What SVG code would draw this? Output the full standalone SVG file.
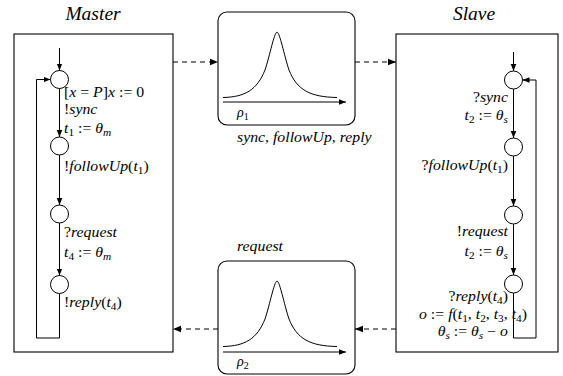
<svg xmlns="http://www.w3.org/2000/svg" width="563" height="376" viewBox="0 0 563 376">
<style>
  .box{fill:#fff;stroke:#000;stroke-width:1.1}
  .ln{fill:none;stroke:#000;stroke-width:1}
  .st{fill:#fff;stroke:#000;stroke-width:1}
  .dash{fill:none;stroke:#000;stroke-width:1;stroke-dasharray:5 4}
</style>
<defs>
  <marker id="ah" viewBox="0 0 10 10" refX="10" refY="5" markerWidth="7" markerHeight="7" markerUnits="userSpaceOnUse" orient="auto">
    <path d="M0,1 L10,5 L0,9 Z" fill="#000"/>
  </marker>
  <marker id="ad" viewBox="0 0 10 10" refX="10" refY="5" markerWidth="8" markerHeight="8" markerUnits="userSpaceOnUse" orient="auto">
    <path d="M0,1 L10,5 L0,9 Z" fill="#000"/>
  </marker>
</defs>

<g id="master">
  <text x="93" y="20" text-anchor="middle" font-family="Liberation Serif" font-style="italic" font-size="19.5">Master</text>
  <rect class="box" x="14" y="34" width="159" height="318"/>
</g>
<g id="slave">
  <text x="474" y="20" text-anchor="middle" font-family="Liberation Serif" font-style="italic" font-size="19.5">Slave</text>
  <rect class="box" x="396" y="34" width="162" height="318"/>
</g>
<g id="channel1">
  <rect class="box" x="218" y="12" width="137" height="113" rx="9"/>
  <path class="ln" d="M223,97.5 C245,97 257,90 265,70 C270,55 274,33 277,32 C280,33 284,55 289,70 C297,90 310,97 337,97.5"/>
  <line class="ln" x1="223" y1="102" x2="346" y2="102" marker-end="url(#ah)"/>
  <text x="237" y="117" font-family="Liberation Serif" font-style="italic" font-size="14">ρ<tspan font-size="10" font-style="normal" dy="2.5">1</tspan></text>
  <text transform="translate(237,142) scale(1.13,1)" font-family="Liberation Serif" font-style="italic" font-size="14">sync, followUp, reply</text>
</g>
<g id="channel2">
  <rect class="box" x="218" y="261" width="137" height="113" rx="9"/>
  <path class="ln" d="M223,346.5 C245,346 257,339 265,319 C270,304 274,282 277,281 C280,282 284,304 289,319 C297,339 310,346 337,346.5"/>
  <line class="ln" x1="223" y1="352" x2="346" y2="352" marker-end="url(#ah)"/>
  <text x="237" y="366" font-family="Liberation Serif" font-style="italic" font-size="14">ρ<tspan font-size="10" font-style="normal" dy="2.5">2</tspan></text>
  <text transform="translate(237,251) scale(1.13,1)" font-family="Liberation Serif" font-style="italic" font-size="14">request</text>
</g>

<g id="master-states">
  <circle class="st" cx="59.5" cy="79.5" r="9"/>
  <circle class="st" cx="59.5" cy="146" r="9"/>
  <circle class="st" cx="59.5" cy="214" r="9"/>
  <circle class="st" cx="59.5" cy="284.5" r="9"/>
</g>
<g id="slave-states">
  <circle class="st" cx="513.5" cy="80" r="9"/>
  <circle class="st" cx="513.5" cy="147" r="9"/>
  <circle class="st" cx="513.5" cy="215" r="9"/>
  <circle class="st" cx="513.5" cy="284" r="9"/>
</g>

<g id="connectors">
  <line class="ln" x1="59.5" y1="48" x2="59.5" y2="70.5" marker-end="url(#ah)"/>
  <line class="ln" x1="59.5" y1="88.5" x2="59.5" y2="137" marker-end="url(#ah)"/>
  <line class="ln" x1="59.5" y1="155" x2="59.5" y2="205" marker-end="url(#ah)"/>
  <line class="ln" x1="59.5" y1="223" x2="59.5" y2="275.5" marker-end="url(#ah)"/>
  <polyline class="ln" points="59.5,293.5 59.5,338 36.5,338 36.5,79.5 50.5,79.5" marker-end="url(#ah)"/>

  <line class="ln" x1="513.5" y1="52" x2="513.5" y2="71" marker-end="url(#ah)"/>
  <line class="ln" x1="513.5" y1="89" x2="513.5" y2="138" marker-end="url(#ah)"/>
  <line class="ln" x1="513.5" y1="156" x2="513.5" y2="206" marker-end="url(#ah)"/>
  <line class="ln" x1="513.5" y1="224" x2="513.5" y2="275" marker-end="url(#ah)"/>
  <polyline class="ln" points="513.5,293 513.5,338 536,338 536,80 522.5,80" marker-end="url(#ah)"/>

  <line class="dash" x1="173" y1="62" x2="218" y2="62" marker-end="url(#ad)"/>
  <line class="dash" x1="355" y1="62" x2="396" y2="62" marker-end="url(#ad)"/>
  <line class="dash" x1="396" y1="329" x2="355" y2="329" marker-end="url(#ad)"/>
  <line class="dash" x1="218" y1="329" x2="173" y2="329" marker-end="url(#ad)"/>
</g>

<g id="master-labels" font-family="Liberation Serif" font-style="italic" font-size="14">
  <text transform="translate(64,97) scale(1.13,1)" font-family="Liberation Serif" font-style="italic" font-size="14"><tspan font-style="normal">[</tspan>x <tspan font-style="normal">=</tspan> P<tspan font-style="normal">]</tspan>x <tspan font-style="normal">:= 0</tspan></text>
  <text transform="translate(64,114) scale(1.13,1)" font-family="Liberation Serif" font-style="italic" font-size="14"><tspan font-style="normal">!</tspan>sync</text>
  <text transform="translate(64,133) scale(1.13,1)" font-family="Liberation Serif" font-style="italic" font-size="14">t<tspan font-size="10" font-style="normal" dy="2.5">1</tspan><tspan font-style="normal" dy="-2.5"> := </tspan>θ<tspan font-size="10" dy="2.5">m</tspan></text>
  <text transform="translate(64,171) scale(1.13,1)" font-family="Liberation Serif" font-style="italic" font-size="14"><tspan font-style="normal">!</tspan>followUp<tspan font-style="normal">(</tspan>t<tspan font-size="10" font-style="normal" dy="2.5">1</tspan><tspan font-style="normal" dy="-2.5">)</tspan></text>
  <text transform="translate(64,237) scale(1.13,1)" font-family="Liberation Serif" font-style="italic" font-size="14"><tspan font-style="normal">?</tspan>request</text>
  <text transform="translate(64,257) scale(1.13,1)" font-family="Liberation Serif" font-style="italic" font-size="14">t<tspan font-size="10" font-style="normal" dy="2.5">4</tspan><tspan font-style="normal" dy="-2.5"> := </tspan>θ<tspan font-size="10" dy="2.5">m</tspan></text>
  <text transform="translate(64,307) scale(1.13,1)" font-family="Liberation Serif" font-style="italic" font-size="14"><tspan font-style="normal">!</tspan>reply<tspan font-style="normal">(</tspan>t<tspan font-size="10" font-style="normal" dy="2.5">4</tspan><tspan font-style="normal" dy="-2.5">)</tspan></text>
</g>
<g id="slave-labels" font-family="Liberation Serif" font-style="italic" font-size="14" text-anchor="end">
  <text transform="translate(508,102) scale(1.13,1)" font-family="Liberation Serif" font-style="italic" font-size="14"><tspan font-style="normal">?</tspan>sync</text>
  <text transform="translate(508,120) scale(1.13,1)" font-family="Liberation Serif" font-style="italic" font-size="14">t<tspan font-size="10" font-style="normal" dy="2.5">2</tspan><tspan font-style="normal" dy="-2.5"> := </tspan>θ<tspan font-size="10" dy="2.5">s</tspan></text>
  <text transform="translate(508,170) scale(1.13,1)" font-family="Liberation Serif" font-style="italic" font-size="14"><tspan font-style="normal">?</tspan>followUp<tspan font-style="normal">(</tspan>t<tspan font-size="10" font-style="normal" dy="2.5">1</tspan><tspan font-style="normal" dy="-2.5">)</tspan></text>
  <text transform="translate(508,236) scale(1.13,1)" font-family="Liberation Serif" font-style="italic" font-size="14"><tspan font-style="normal">!</tspan>request</text>
  <text transform="translate(508,256) scale(1.13,1)" font-family="Liberation Serif" font-style="italic" font-size="14">t<tspan font-size="10" font-style="normal" dy="2.5">2</tspan><tspan font-style="normal" dy="-2.5"> := </tspan>θ<tspan font-size="10" dy="2.5">s</tspan></text>
  <text transform="translate(508,301) scale(1.13,1)" font-family="Liberation Serif" font-style="italic" font-size="14"><tspan font-style="normal">?</tspan>reply<tspan font-style="normal">(</tspan>t<tspan font-size="10" font-style="normal" dy="2.5">4</tspan><tspan font-style="normal" dy="-2.5">)</tspan></text>
  <text transform="translate(527,319) scale(1.13,1)" font-family="Liberation Serif" font-style="italic" font-size="14">o <tspan font-style="normal">:=</tspan> f<tspan font-style="normal">(</tspan>t<tspan font-size="10" font-style="normal" dy="2.5">1</tspan><tspan font-style="normal" dy="-2.5">, </tspan>t<tspan font-size="10" font-style="normal" dy="2.5">2</tspan><tspan font-style="normal" dy="-2.5">, </tspan>t<tspan font-size="10" font-style="normal" dy="2.5">3</tspan><tspan font-style="normal" dy="-2.5">, </tspan>t<tspan font-size="10" font-style="normal" dy="2.5">4</tspan><tspan font-style="normal" dy="-2.5">)</tspan></text>
  <text transform="translate(508,336) scale(1.13,1)" font-family="Liberation Serif" font-style="italic" font-size="14">θ<tspan font-size="10" dy="2.5">s</tspan><tspan font-style="normal" dy="-2.5"> := </tspan>θ<tspan font-size="10" dy="2.5">s</tspan><tspan font-style="normal" dy="-2.5"> − </tspan>o</text>
</g>
</svg>
